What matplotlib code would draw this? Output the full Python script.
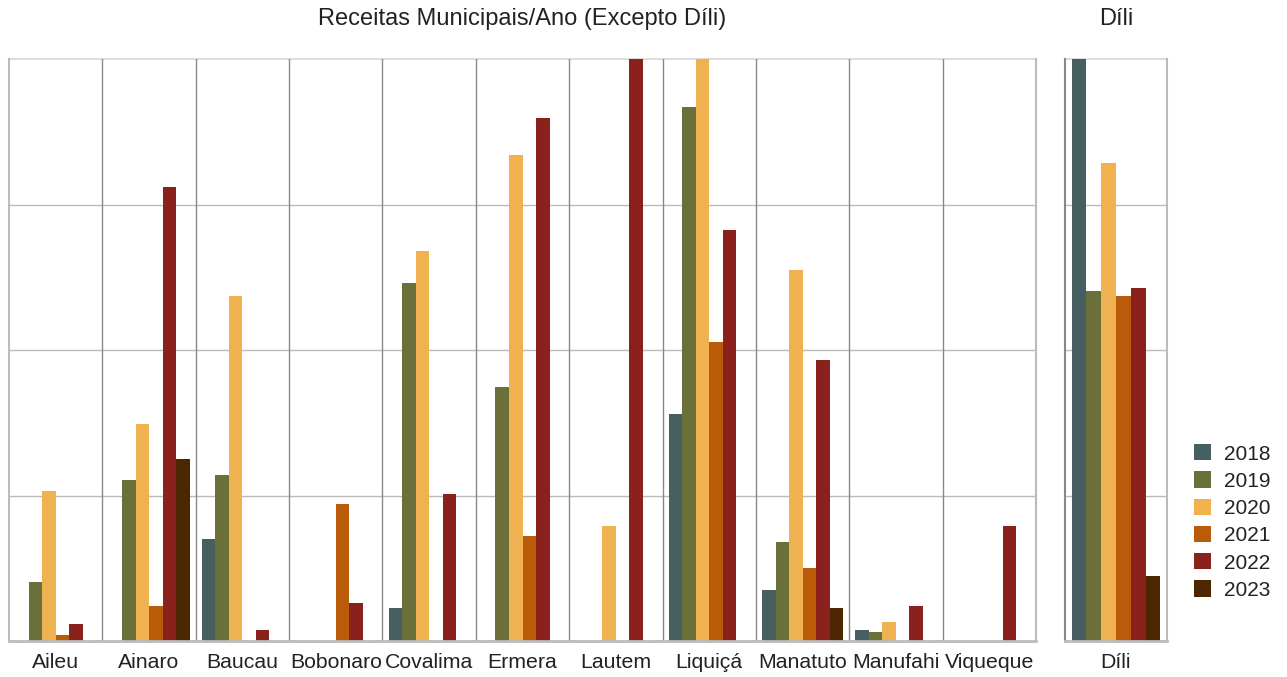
import matplotlib
matplotlib.use("Agg")
import matplotlib.pyplot as plt
from matplotlib.patches import Patch
import numpy as np

plt.rcParams['font.family'] = ['Liberation Sans', 'DejaVu Sans']

municipalities = ["Aileu", "Ainaro", "Baucau", "Bobonaro", "Covalima", "Ermera",
                  "Lautem", "Liquiçá", "Manatuto", "Manufahi", "Viqueque"]
years = ["2018", "2019", "2020", "2021", "2022", "2023"]
colors = ["#475F61", "#6B6F3A", "#F0B251", "#BA5B0A", "#8A211C", "#4B2600"]

# relative values (panel max = 100); None = no bar
v2018 = [None, None, 17.5, None, 5.7, None, None, 39.0, 8.8, 1.9, None]
v2019 = [10.1, 27.7, 28.5, None, 61.5, 43.6, None, 91.8, 17.0, 1.5, None]
v2020 = [25.8, 37.3, 59.3, None, 67.0, 83.5, 19.8, 100.0, 63.7, 3.3, None]
v2021 = [1.0, 6.0, None, 23.5, None, 18.0, None, 51.4, 12.5, None, None]
v2022 = [2.9, 78.0, 1.9, 6.5, 25.3, 89.9, 100.0, 70.6, 48.3, 6.0, 19.8]
v2023 = [None, 31.3, None, None, None, None, None, None, 5.7, None, None]

dili_name = ["Díli"]
dili_values = [100.0, 60.1, 82.1, 59.3, 60.7, 11.2]

W, H = 1287, 677
fig = plt.figure(figsize=(W / 100, H / 100), dpi=100)

def px_axes(x0, x1, y0, y1):
    return fig.add_axes([x0 / W, 1 - y1 / H, (x1 - x0) / W, (y1 - y0) / H])

ax1 = px_axes(9, 1036, 59, 641)
ax2 = px_axes(1065, 1167, 59, 641)

bw = 0.87 / 6
series = [v2018, v2019, v2020, v2021, v2022, v2023]

def style(ax, n, left_color):
    ax.set_xlim(-0.5, n - 0.5)
    ax.set_ylim(0, 100)
    ax.set_yticks([])
    for yv in [25, 50, 75]:
        ax.axhline(yv, color="#BBBBBB", lw=1.0, zorder=0)
    ax.axhline(100, color="#DDDDDD", lw=1.5, zorder=0, clip_on=False)
    ax.spines["top"].set_visible(False)
    for i in range(n - 1):
        ax.axvline(i + 0.5, color="#888888", lw=1.0, zorder=0)
    ax.spines["bottom"].set_color("#BBBBBB")
    ax.spines["bottom"].set_linewidth(2.0)
    ax.spines["right"].set_color("#BBBBBB")
    ax.spines["right"].set_linewidth(1.5)
    ax.spines["left"].set_color(left_color)
    ax.spines["left"].set_linewidth(1.5)
    ax.tick_params(axis="x", length=0, pad=9, labelsize=15.3, labelcolor="#222222")

x = np.arange(len(municipalities))
for j, vals in enumerate(series):
    for i, v in enumerate(vals):
        if v is not None:
            ax1.bar(x[i] + (j - 2.5) * bw, v, width=bw, color=colors[j], zorder=2, linewidth=0)
ax1.set_xticks(x)
ax1.set_xticklabels(municipalities)
style(ax1, len(municipalities), "#BBBBBB")

for j, v in enumerate(dili_values):
    ax2.bar(0 + (j - 2.5) * bw, v, width=bw, color=colors[j], zorder=2, linewidth=0)
ax2.set_xticks([0])
ax2.set_xticklabels(dili_name)
style(ax2, 1, "#888888")

fig.text((9 + 1036) / 2 / W, 1 - 19 / H, "Receitas Municipais/Ano (Excepto Díli)",
         ha="center", va="center", fontsize=17, color="#222222")
fig.text((1065 + 1167) / 2 / W, 1 - 19 / H, "Díli",
         ha="center", va="center", fontsize=17, color="#222222")

handles = [Patch(facecolor=c, edgecolor="none", label=y) for c, y in zip(colors, years)]
fig.legend(handles=handles, loc="center left", bbox_to_anchor=(1194 / W, 1 - 522 / H),
           frameon=False, fontsize=15, handlelength=0.82, handleheight=0.82,
           handletextpad=0.6, labelspacing=0.38, borderpad=0, borderaxespad=0,
           labelcolor="#222222")

fig.savefig("out.png", dpi=100)
